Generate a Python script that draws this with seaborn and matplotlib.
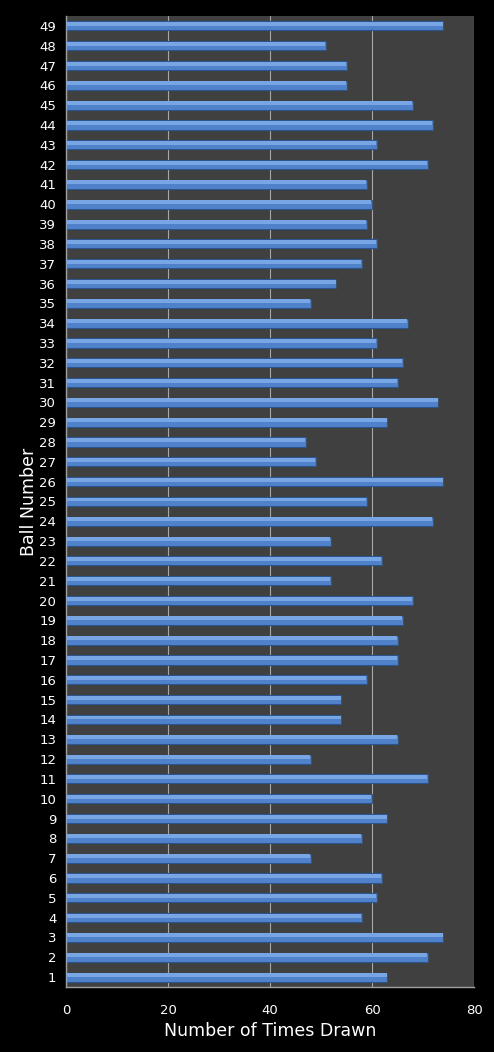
import matplotlib
matplotlib.use("Agg")
import matplotlib.pyplot as plt
import seaborn as sns
import pandas as pd
import numpy as np

balls = list(range(1, 50))
times_drawn = [63, 71, 74, 58, 61, 62, 48, 58, 63, 60,
               71, 48, 65, 54, 54, 59, 65, 65, 66, 68,
               52, 62, 52, 72, 59, 74, 49, 47, 63, 73,
               65, 66, 61, 67, 48, 53, 58, 61, 59, 60,
               59, 71, 61, 72, 68, 55, 55, 51, 74]
x_ticks = [0, 20, 40, 60, 80]

df = pd.DataFrame({"ball": [str(b) for b in balls], "times": times_drawn})
order = [str(b) for b in reversed(balls)]

sns.set_theme(style="dark")
fig = plt.figure(figsize=(4.94, 10.52), dpi=100, facecolor="black")
ax = fig.add_axes([0.1336, 0.0618, 0.826, 0.923])
ax.set_facecolor("#404040")

sns.barplot(data=df, x="times", y="ball", order=order, orient="h",
            color="#4F82CB", edgecolor="#2B558F", linewidth=0.8,
            width=0.46, saturation=1, ax=ax)

# lighter upper half of each bar (gradient look)
vals = df.set_index("ball").loc[order, "times"].values
pos = np.arange(len(order))
ax.barh(pos - 0.1, vals - 0.3, height=0.2, left=0.15, color="#78A6E4",
        linewidth=0, zorder=3)

ax.set_xlim(0, 80)
ax.set_xticks(x_ticks)
ax.set_xticklabels([str(t) for t in x_ticks])
ax.xaxis.grid(True, color="#A8A8A8", linewidth=0.8)
ax.yaxis.grid(False)
ax.set_axisbelow(True)
ax.set_ylim(len(order) - 0.5, -0.5)

for side in ["top", "right"]:
    ax.spines[side].set_visible(False)
for side in ["left", "bottom"]:
    ax.spines[side].set_visible(True)
    ax.spines[side].set_color("#A0A0A0")
    ax.spines[side].set_linewidth(1.0)

ax.tick_params(axis="both", colors="white", labelsize=9.5, length=0, pad=7)
ax.tick_params(axis="x", pad=12)
ax.set_xlabel("Number of Times Drawn", color="white", fontsize=12.5, labelpad=4)
ax.set_ylabel("Ball Number", color="white", fontsize=12.5, labelpad=1)

fig.savefig("out.png", dpi=100, facecolor="black")
